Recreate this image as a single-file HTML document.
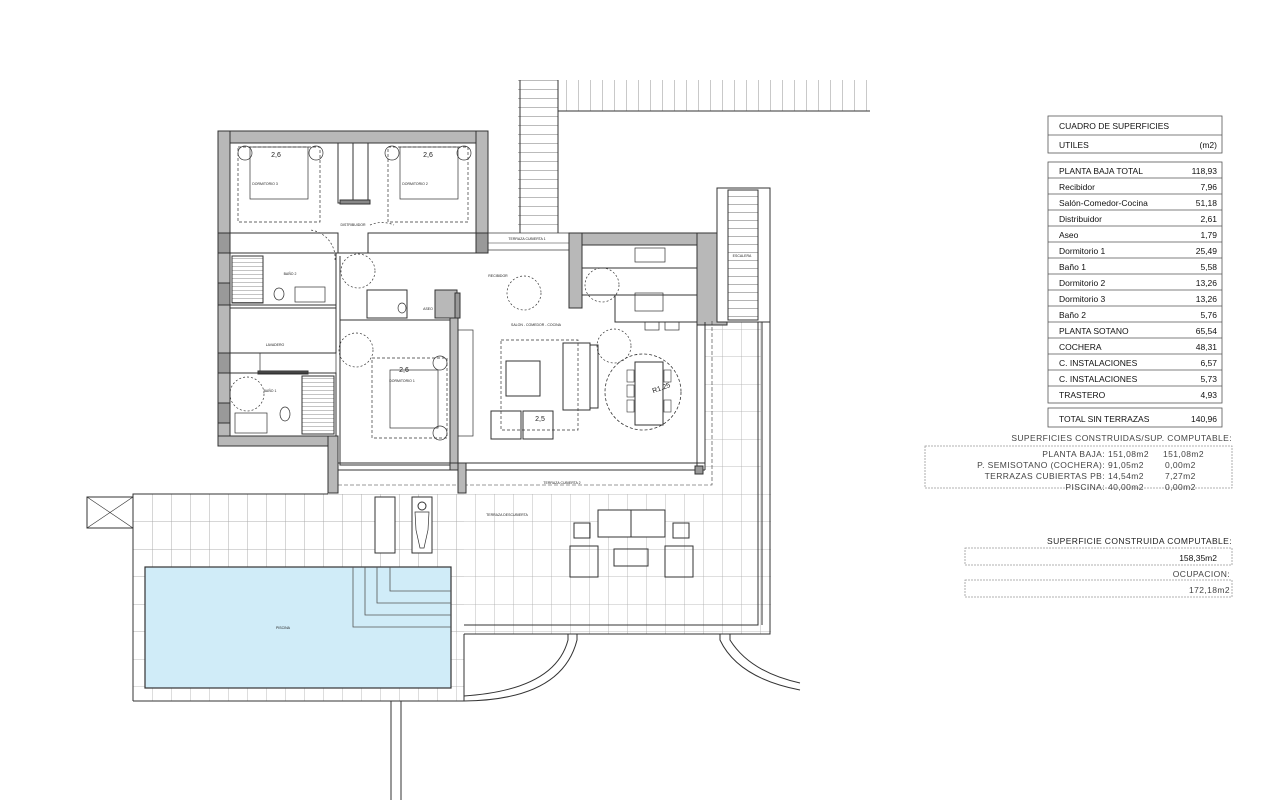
<!DOCTYPE html>
<html><head><meta charset="utf-8"><style>
html,body{margin:0;padding:0;background:#fff;}
body{width:1280px;height:800px;overflow:hidden;position:relative;font-family:"Liberation Sans",sans-serif;}
svg{position:absolute;left:0;top:0;}
</style></head><body>
<svg width="1280" height="800" viewBox="0 0 1280 800" xmlns="http://www.w3.org/2000/svg" font-family="Liberation Sans, sans-serif">
<defs>
<pattern id="tile" x="133" y="494" width="19" height="27.5" patternUnits="userSpaceOnUse">
<path d="M0 0V27.5M0 0H19" stroke="#aaa" stroke-width="0.8" fill="none"/>
</pattern>
<pattern id="vstripe" x="518" y="80" width="12" height="10" patternUnits="userSpaceOnUse">
<path d="M0 0V10" stroke="#777" stroke-width="0.8"/>
</pattern>
<pattern id="rung" x="0" y="80" width="10" height="9" patternUnits="userSpaceOnUse">
<path d="M0 0H10" stroke="#555" stroke-width="0.8"/>
</pattern>
<pattern id="rung2" x="0" y="188" width="10" height="8" patternUnits="userSpaceOnUse">
<path d="M0 0H10" stroke="#444" stroke-width="0.8"/>
</pattern>
<pattern id="hrung" x="0" y="258" width="10" height="4" patternUnits="userSpaceOnUse">
<path d="M0 0H10" stroke="#555" stroke-width="0.7"/>
</pattern>
</defs>
<g fill="none" stroke="#333" stroke-width="1">
<rect x="558" y="80" width="312" height="31" fill="url(#vstripe)" stroke="none"/>
<line x1="558" y1="111" x2="870" y2="111"/>
<rect x="518" y="80" width="40" height="153" fill="url(#rung)" stroke="none"/>
<line x1="520" y1="80" x2="520" y2="233"/><line x1="558" y1="80" x2="558" y2="233"/>

<rect x="133" y="494" width="638" height="140" fill="url(#tile)" stroke="none"/>
<rect x="133" y="494" width="331" height="207" fill="url(#tile)" stroke="none"/>
<rect x="705" y="320" width="56" height="174" fill="url(#tile)" stroke="none"/>
<path d="M133 701V494H328"/>
<path d="M133 701H464V634"/>
<path d="M464 625H758V320M464 634H770V188"/>
<path d="M762 322V625"/>
<rect x="87" y="497" width="46" height="31"/><path d="M87 497L133 528M133 497L87 528" stroke-width="0.6"/>
<line x1="391" y1="701" x2="391" y2="800"/><line x1="401" y1="701" x2="401" y2="800"/>
<path d="M568 634V640Q555 690 464 696"/><path d="M577 634V640Q562 700 464 701"/>
<path d="M720 634V640Q738 678 800 690"/><path d="M730 634V640Q750 672 800 683"/>

<rect x="145" y="567" width="306" height="121" fill="#d0ecf8" stroke="#333" stroke-width="1.2"/>
<path d="M353 567V627H451M365 567V615H451M377 567V603H451M390 567V591H451" stroke="#555" stroke-width="0.8"/>

<rect x="375" y="497" width="20" height="56" fill="#fff"/>
<rect x="412" y="497" width="20" height="56" fill="#fff"/>
<ellipse cx="422" cy="506" rx="4" ry="4" fill="#fff"/>
<path d="M415 512L429 512L428 530L424 548L420 548L416 530Z" fill="#fff" stroke-width="0.7"/>
<rect x="598" y="510" width="67" height="27" fill="#fff"/><line x1="631" y1="510" x2="631" y2="537"/>
<rect x="574" y="523" width="16" height="15"/><rect x="673" y="523" width="16" height="15"/>
<rect x="570" y="546" width="28" height="31"/><rect x="665" y="546" width="28" height="31"/>
<rect x="614" y="549" width="34" height="17"/>

<rect x="218" y="131" width="270" height="12" fill="#b8b8b8"/>
<rect x="218" y="131" width="12" height="315" fill="#b8b8b8"/>
<rect x="476" y="131" width="12" height="122" fill="#b8b8b8"/>
<rect x="218" y="233" width="120" height="20" fill="#fff"/>
<rect x="368" y="233" width="120" height="20" fill="#fff"/>
<rect x="218" y="233" width="12" height="20" fill="#999"/>
<rect x="476" y="233" width="12" height="20" fill="#999"/>
<rect x="218" y="436" width="120" height="10" fill="#b8b8b8"/>
<rect x="328" y="436" width="10" height="57" fill="#b8b8b8"/>
<rect x="218" y="283" width="12" height="22" fill="#999"/>
<rect x="218" y="353" width="12" height="20" fill="#999"/>
<rect x="218" y="403" width="12" height="20" fill="#999"/>
<line x1="353" y1="143" x2="353" y2="200"/>
<rect x="338" y="143" width="30" height="60"/>
<rect x="340" y="200" width="30" height="4" fill="#888"/>
<rect x="238" y="147" width="82" height="75" stroke-dasharray="3,2" stroke-width="0.7"/>
<rect x="388" y="147" width="80" height="75" stroke-dasharray="3,2" stroke-width="0.7"/>
<rect x="250" y="147" width="58" height="52" stroke-width="0.7"/>
<rect x="400" y="147" width="58" height="52" stroke-width="0.7"/>
<circle cx="245" cy="153" r="7" stroke-width="0.7"/><circle cx="316" cy="153" r="7" stroke-width="0.7"/>
<circle cx="392" cy="153" r="7" stroke-width="0.7"/><circle cx="464" cy="153" r="7" stroke-width="0.7"/>
<rect x="230" y="253" width="106" height="52"/>
<rect x="232" y="256" width="31" height="47" fill="url(#hrung)"/>
<rect x="295" y="287" width="30" height="15" stroke-width="0.7"/>
<ellipse cx="279" cy="294" rx="5" ry="6" stroke-width="0.7"/>
<rect x="230" y="308" width="106" height="45"/>
<rect x="260" y="353" width="76" height="20" stroke-width="0.7"/>
<rect x="258" y="371" width="50" height="3" fill="#555"/>
<rect x="230" y="373" width="106" height="63"/>
<rect x="302" y="376" width="32" height="58" fill="url(#hrung)"/>
<ellipse cx="285" cy="414" rx="5" ry="7" stroke-width="0.7"/>
<rect x="235" y="413" width="32" height="20" stroke-width="0.7"/>
<line x1="336" y1="253" x2="336" y2="320"/><line x1="340" y1="256" x2="340" y2="320"/>
<path d="M338 253H368"/>
<rect x="367" y="290" width="40" height="28"/>
<rect x="435" y="290" width="22" height="28" fill="#b8b8b8"/>
<ellipse cx="402" cy="308" rx="4" ry="5" stroke-width="0.7"/>
<rect x="340" y="320" width="110" height="145"/>
<rect x="372" y="358" width="75" height="80" stroke-dasharray="3,2" stroke-width="0.7"/>
<rect x="390" y="370" width="48" height="58" stroke-width="0.7"/>
<circle cx="440" cy="363" r="7" stroke-width="0.7"/><circle cx="440" cy="433" r="7" stroke-width="0.7"/>
<rect x="450" y="318" width="8" height="152" fill="#b8b8b8"/>
<rect x="458" y="330" width="15" height="106" stroke-width="0.7"/>
<rect x="455" y="293" width="5" height="25" fill="#999"/>
<rect x="488" y="233" width="81" height="17" stroke-width="0.7"/>
<path d="M488 243H569" stroke-width="0.5"/>
<rect x="569" y="233" width="148" height="12" fill="#b8b8b8"/>
<rect x="569" y="233" width="13" height="75" fill="#b8b8b8"/>
<rect x="697" y="233" width="30" height="92" fill="#b8b8b8"/>
<rect x="582" y="245" width="115" height="23"/>
<rect x="582" y="268" width="115" height="27"/>
<rect x="615" y="295" width="82" height="27"/>
<rect x="635" y="248" width="30" height="14" stroke-width="0.7"/>
<rect x="635" y="293" width="28" height="18" stroke-width="0.7"/>
<rect x="645" y="322" width="14" height="8" stroke-width="0.7"/><rect x="665" y="322" width="14" height="8" stroke-width="0.7"/>
<rect x="717" y="188" width="53" height="134" fill="#fff"/>
<rect x="728" y="190" width="30" height="130" fill="url(#rung2)"/>
<rect x="501" y="340" width="77" height="90" stroke-dasharray="3,2" stroke-width="0.7"/>
<rect x="506" y="361" width="34" height="35"/>
<rect x="563" y="343" width="27" height="67"/><rect x="590" y="345" width="8" height="63"/>
<rect x="491" y="411" width="30" height="28"/><rect x="523" y="411" width="30" height="28"/>
<circle cx="643" cy="392" r="38" stroke-dasharray="3,2" stroke-width="0.8"/>
<rect x="635" y="362" width="28" height="63"/>
<rect x="627" y="370" width="7" height="12" stroke-width="0.6"/><rect x="627" y="385" width="7" height="12" stroke-width="0.6"/><rect x="627" y="400" width="7" height="12" stroke-width="0.6"/>
<rect x="664" y="370" width="7" height="12" stroke-width="0.6"/><rect x="664" y="400" width="7" height="12" stroke-width="0.6"/>
<g stroke-dasharray="2,2" stroke-width="0.7">
<circle cx="358" cy="271" r="17"/><circle cx="524" cy="293" r="17"/><circle cx="602" cy="285" r="17"/>
<circle cx="614" cy="346" r="17"/><circle cx="356" cy="350" r="17"/><circle cx="247" cy="394" r="17"/>
<path d="M335 260A28 28 0 0 0 310 230M370 225A30 30 0 0 1 394 225"/>
</g>
<path d="M338 463H705M338 470H705M697 322V470M705 322V470"/>
<path d="M338 485H712V320" stroke-dasharray="4,2" stroke-width="0.6"/>
<rect x="458" y="463" width="8" height="30" fill="#b8b8b8"/>
<rect x="695" y="466" width="8" height="8" fill="#999"/>
</g>
<g font-size="3.5" fill="#222" text-anchor="middle">
<text x="265" y="185">DORMITORIO 3</text><text x="415" y="185">DORMITORIO 2</text>
<text x="353" y="226">DISTRIBUIDOR</text><text x="290" y="275">BAÑO 2</text>
<text x="275" y="346">LAVADERO</text><text x="270" y="392">BAÑO 1</text>
<text x="428" y="310">ASEO</text><text x="402" y="382">DORMITORIO 1</text>
<text x="498" y="277">RECIBIDOR</text><text x="536" y="326">SALON - COMEDOR - COCINA</text>
<text x="527" y="240">TERRAZA CUBIERTA 1</text><text x="742" y="257">ESCALERA</text>
<text x="562" y="484">TERRAZA CUBIERTA 2</text><text x="507" y="516">TERRAZA DESCUBIERTA</text>
<text x="283" y="629">PISCINA</text>
</g>
<g font-size="7" fill="#222" text-anchor="middle">
<text x="276" y="157">2,6</text><text x="428" y="157">2,6</text><text x="404" y="372">2,6</text><text x="540" y="421">2,5</text>
<text x="662" y="390" transform="rotate(-20 662 390)">R1,25</text>
</g>

<g fill="none" stroke="#555" stroke-width="0.8">
<rect x="1048" y="116" width="174" height="37"/><line x1="1048" y1="135" x2="1222" y2="135"/>
<rect x="1048" y="162" width="174" height="241"/>
<path d="M1048 178H1222M1048 194H1222M1048 210H1222M1048 226H1222M1048 242H1222M1048 258H1222M1048 274H1222M1048 290H1222M1048 306H1222M1048 322H1222M1048 338H1222M1048 354H1222M1048 370H1222M1048 386H1222"/>
<rect x="1048" y="408" width="174" height="19"/>
<g stroke-dasharray="2,1" stroke="#999"><rect x="925" y="446" width="307" height="42"/><rect x="965" y="548" width="267" height="17"/><rect x="965" y="580" width="267" height="17"/></g>
</g>
<g font-size="8.5" fill="#111">
<text x="1059" y="129">CUADRO DE SUPERFICIES</text><text x="1059" y="148">UTILES</text><text x="1217" y="148" text-anchor="end">(m2)</text>
<g>
<text x="1059" y="174">PLANTA BAJA TOTAL</text><text x="1059" y="190">Recibidor</text><text x="1059" y="206">Salón-Comedor-Cocina</text><text x="1059" y="222">Distribuidor</text><text x="1059" y="238">Aseo</text><text x="1059" y="254">Dormitorio 1</text><text x="1059" y="270">Baño 1</text><text x="1059" y="286">Dormitorio 2</text><text x="1059" y="302">Dormitorio 3</text><text x="1059" y="318">Baño 2</text><text x="1059" y="334">PLANTA SOTANO</text><text x="1059" y="350">COCHERA</text><text x="1059" y="366">C. INSTALACIONES</text><text x="1059" y="382">C. INSTALACIONES</text><text x="1059" y="398">TRASTERO</text>
</g>
<g text-anchor="end">
<text x="1217" y="174">118,93</text><text x="1217" y="190">7,96</text><text x="1217" y="206">51,18</text><text x="1217" y="222">2,61</text><text x="1217" y="238">1,79</text><text x="1217" y="254">25,49</text><text x="1217" y="270">5,58</text><text x="1217" y="286">13,26</text><text x="1217" y="302">13,26</text><text x="1217" y="318">5,76</text><text x="1217" y="334">65,54</text><text x="1217" y="350">48,31</text><text x="1217" y="366">6,57</text><text x="1217" y="382">5,73</text><text x="1217" y="398">4,93</text>
</g>
<text x="1059" y="422">TOTAL SIN TERRAZAS</text><text x="1217" y="422" text-anchor="end">140,96</text>
<text x="1217" y="561" text-anchor="end">158,35m2</text>
</g>
<g font-size="8.5" fill="#444" letter-spacing="0.4">
<text x="1232" y="441" text-anchor="end">SUPERFICIES CONSTRUIDAS/SUP. COMPUTABLE:</text>
<g text-anchor="end"><text x="1105" y="457">PLANTA BAJA:</text><text x="1105" y="468">P. SEMISOTANO (COCHERA):</text><text x="1105" y="479">TERRAZAS CUBIERTAS PB:</text><text x="1105" y="490">PISCINA:</text></g>
<text x="1108" y="457">151,08m2</text><text x="1108" y="468">91,05m2</text><text x="1108" y="479">14,54m2</text><text x="1108" y="490">40,00m2</text>
<text x="1163" y="457">151,08m2</text><text x="1165" y="468">0,00m2</text><text x="1165" y="479">7,27m2</text><text x="1165" y="490">0,00m2</text>
<text x="1232" y="544" text-anchor="end" fill="#222">SUPERFICIE CONSTRUIDA COMPUTABLE:</text>
<text x="1230" y="577" text-anchor="end">OCUPACION:</text>
<text x="1230" y="593" text-anchor="end">172,18m2</text>
</g>
</svg>
</body></html>
